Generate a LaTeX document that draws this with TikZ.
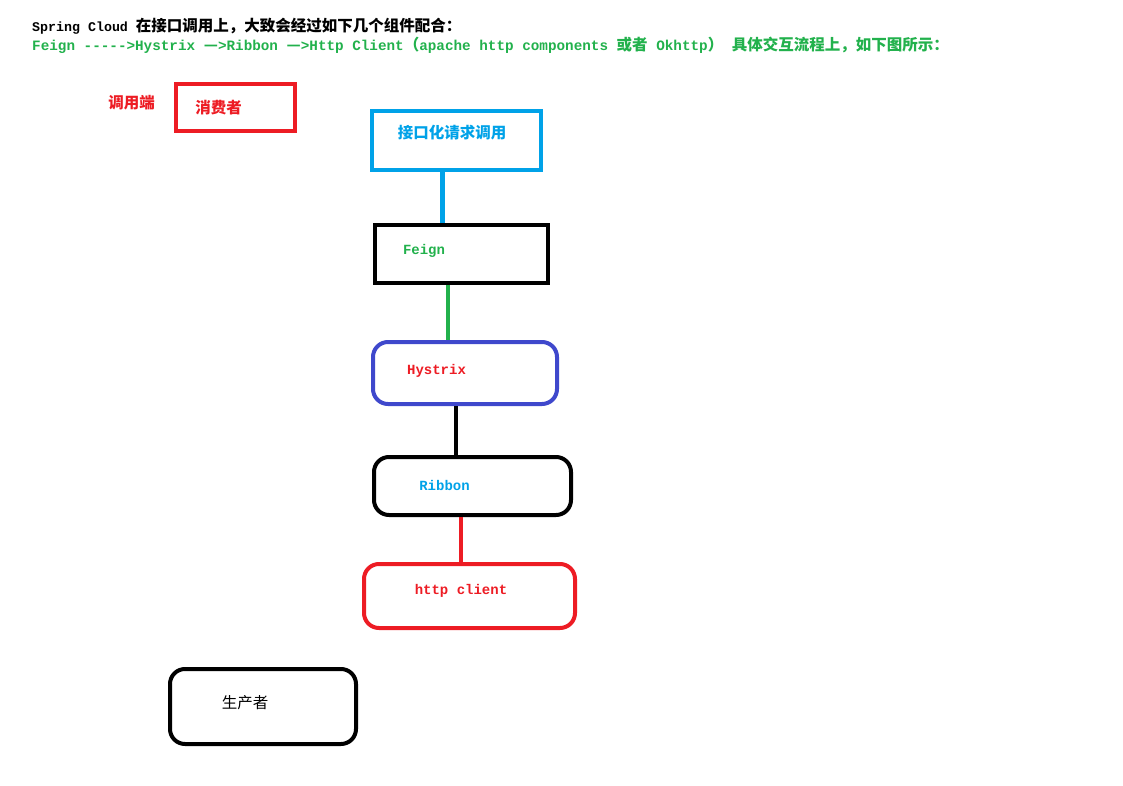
\documentclass[tikz,border=0pt]{standalone}
\usepackage{fontspec}
\setmonofont{Liberation Mono}
\newfontfamily\cjk{Noto Sans CJK SC}
\usetikzlibrary{positioning,calc}
\definecolor{pRed}{RGB}{237,28,36}
\definecolor{pSky}{RGB}{0,162,232}
\definecolor{pGreen}{RGB}{34,177,76}
\definecolor{pIndigo}{RGB}{63,72,204}
\newcommand{\zh}[1]{{\cjk\bfseries\fontsize{15.5}{17}\selectfont #1}}

\begin{document}
\begin{tikzpicture}[x=1pt,y=-1pt,
    hdr/.style={anchor=west,inner sep=0pt,font=\ttfamily\bfseries\fontsize{13.3}{15}\selectfont},
    box/.style={draw,line width=4pt,minimum width=#1,inner sep=0pt},
    rbox/.style={box=#1,rounded corners=15pt},
    lblzh/.style={font=\cjk\bfseries\fontsize{15.5}{17}\selectfont},
    lbltt/.style={font=\ttfamily\bfseries\fontsize{14}{16}\selectfont},
    link/.style={line width=4.5pt}]
  \useasboundingbox (0,0) rectangle (1123,786);
  % heading
  \node[hdr] (head) at (32,26) {Spring Cloud \zh{在接口调用上，大致会经过如下几个组件配合：}};
  \node[hdr,text=pGreen,font=\ttfamily\bfseries\fontsize{14.3}{16}\selectfont] (chain) at (32,45) {Feign -{}-{}-{}-{}->Hystrix \zh{—}>Ribbon \zh{—}>Http Client\zh{（}apache http components \zh{或者} Okhttp\zh{）} \zh{具体交互流程上，如下图所示：}};
  % caller side
  \node[box=119pt,minimum height=47pt,draw=pRed,
    label={[lblzh,text=pRed,xshift=-17pt]center:消费者}] (cons) at (235.5,107.5) {};
  \node[lblzh,text=pRed,inner sep=0pt,left=19pt of cons,yshift=4.5pt] (caller) {调用端};
  % call chain
  \node[box=169pt,minimum height=59pt,draw=pSky,
    label={[lblzh,text=pSky,xshift=-4.5pt,yshift=7.5pt]center:接口化请求调用}] (req) at (456.5,140.5) {};
  \node[box=173pt,minimum height=58pt,below=51pt of req,xshift=5pt,
    label={[lbltt,text=pGreen,xshift=-37.5pt,yshift=3pt]center:Feign}] (feign) {};
  \node[rbox=184pt,minimum height=62pt,draw=pIndigo,below=55pt of feign,xshift=3.5pt,
    label={[lbltt,text=pRed,xshift=-28.5pt,yshift=2pt]center:Hystrix}] (hys) {};
  \node[rbox=197pt,minimum height=58pt,below=49pt of hys,xshift=7.5pt,
    label={[lbltt,text=pSky,xshift=-28pt,yshift=1pt]center:Ribbon}] (rib) {};
  \node[rbox=211pt,minimum height=64pt,draw=pRed,below=45pt of rib,xshift=-3pt,
    label={[lbltt,text=pRed,xshift=-8.5pt,yshift=5pt]center:http client}] (http) {};
  % provider side
  \node[rbox=186pt,minimum height=75pt,below=37pt of http,xshift=-206.5pt,
    label={[font=\cjk\fontsize{15.5}{17}\selectfont,xshift=-18pt,yshift=3.5pt]center:生产者}] (prod) {};
  % links
  \draw[link,pSky,line width=5pt] ([xshift=-14.5pt]req.south) -- ([xshift=-14.5pt]req.south |- feign.north);
  \draw[link,pGreen] ([xshift=-13.5pt]feign.south) -- ([xshift=-13.5pt]feign.south |- hys.north);
  \draw[link] ([xshift=-9pt]hys.south) -- ([xshift=-9pt]hys.south |- rib.north);
  \draw[link,pRed] ([xshift=-11.5pt]rib.south) -- ([xshift=-11.5pt]rib.south |- http.north);
\end{tikzpicture}
\end{document}
